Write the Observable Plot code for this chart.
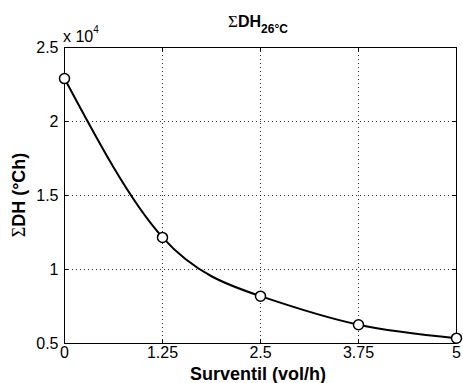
<!DOCTYPE html>
<html><head><meta charset="utf-8">
<script src="https://cdn.jsdelivr.net/npm/d3@7"></script>
<script src="https://cdn.jsdelivr.net/npm/@observablehq/plot@0.6"></script>
<style>body{margin:0;background:#fff}</style>
</head><body><div id="chart"></div>
<script>
const airChanges = [0, 1.25, 2.5, 3.75, 5];
const sumDH = [22900, 12170, 8200, 6270, 5360];
const xTicks = [0, 1.25, 2.5, 3.75, 5];
const xTickLabels = ["0", "1.25", "2.5", "3.75", "5"];
const yTicks = [0.5, 1, 1.5, 2, 2.5];
const yTickLabels = ["0.5", "1", "1.5", "2", "2.5"];
const titleMain = "DH";
const titleSub = "26°C";
const yLabel = "DH (°Ch)";
const xLabel = "Surventil (vol/h)";

const data = airChanges.map((x, i) => ({x, y: sumDH[i] / 1e4}));

const chart = Plot.plot({
  width: 463, height: 383,
  marginTop: 47, marginBottom: 40, marginLeft: 64, marginRight: 7,
  style: {fontFamily: "'Liberation Sans', Arial, sans-serif", fontSize: "16px", background: "#fff", color: "#000"},
  x: {domain: [0, 5]},
  y: {domain: [0.5, 2.5]},
  marks: [
    Plot.gridX(xTicks, {stroke: "#000", strokeOpacity: 0.8, strokeDasharray: "1,3"}),
    Plot.gridY(yTicks, {stroke: "#000", strokeOpacity: 0.8, strokeDasharray: "1,3"}),
    Plot.ruleX(xTicks, {y1: 0.5, y2: 0.527, stroke: "#000"}),
    Plot.ruleX(xTicks, {y1: 2.5, y2: 2.473, stroke: "#000"}),
    Plot.ruleY(yTicks, {x1: 0, x2: 0.05, stroke: "#000"}),
    Plot.ruleY(yTicks, {x1: 5, x2: 4.95, stroke: "#000"}),
    Plot.axisX(xTicks, {tickFormat: d => xTickLabels[xTicks.indexOf(d)], tickSize: 0, tickPadding: 3, label: null, fontSize: 16}),
    Plot.axisY(yTicks, {tickFormat: d => yTickLabels[yTicks.indexOf(d)], tickSize: 0, tickPadding: 6, label: null, fontSize: 16}),
    Plot.frame({stroke: "#000", strokeWidth: 1}),
    Plot.line(data, {x: "x", y: "y", curve: "natural", stroke: "#000", strokeWidth: 2}),
    Plot.dot(data, {x: "x", y: "y", r: 5, fill: "#fff", stroke: "#000", strokeWidth: 1.5})
  ]
});
document.getElementById("chart").appendChild(chart);

const svg = d3.select(chart);
const ff = "'Liberation Sans', Arial, sans-serif";
const serif = "'Liberation Serif', 'DejaVu Serif', serif";

const t = svg.append("text").attr("x", 258).attr("y", 27).attr("text-anchor", "middle")
  .attr("font-family", ff).attr("fill", "#000");
t.append("tspan").attr("font-family", serif).attr("font-size", 17).text("Σ");
t.append("tspan").attr("font-weight", "bold").attr("font-size", 16).text(titleMain);
t.append("tspan").attr("font-weight", "bold").attr("font-size", 12).attr("dy", 6).text(titleSub);

const m = svg.append("text").attr("x", 63).attr("y", 42).attr("text-anchor", "start")
  .attr("font-family", ff).attr("font-size", 16).attr("fill", "#000");
m.append("tspan").text("x 10");
m.append("tspan").attr("font-size", 10).attr("dy", -9).text("4");

const yl = svg.append("text").attr("transform", "translate(25,195) rotate(-90)").attr("text-anchor", "middle")
  .attr("font-family", ff).attr("font-size", 18).attr("fill", "#000");
yl.append("tspan").attr("font-family", serif).text("Σ");
yl.append("tspan").attr("font-weight", "bold").text(yLabel);

svg.append("text").attr("x", 258).attr("y", 380).attr("text-anchor", "middle")
  .attr("font-family", ff).attr("font-size", 18).attr("font-weight", "bold").attr("fill", "#000").text(xLabel);
</script>
</body></html>
